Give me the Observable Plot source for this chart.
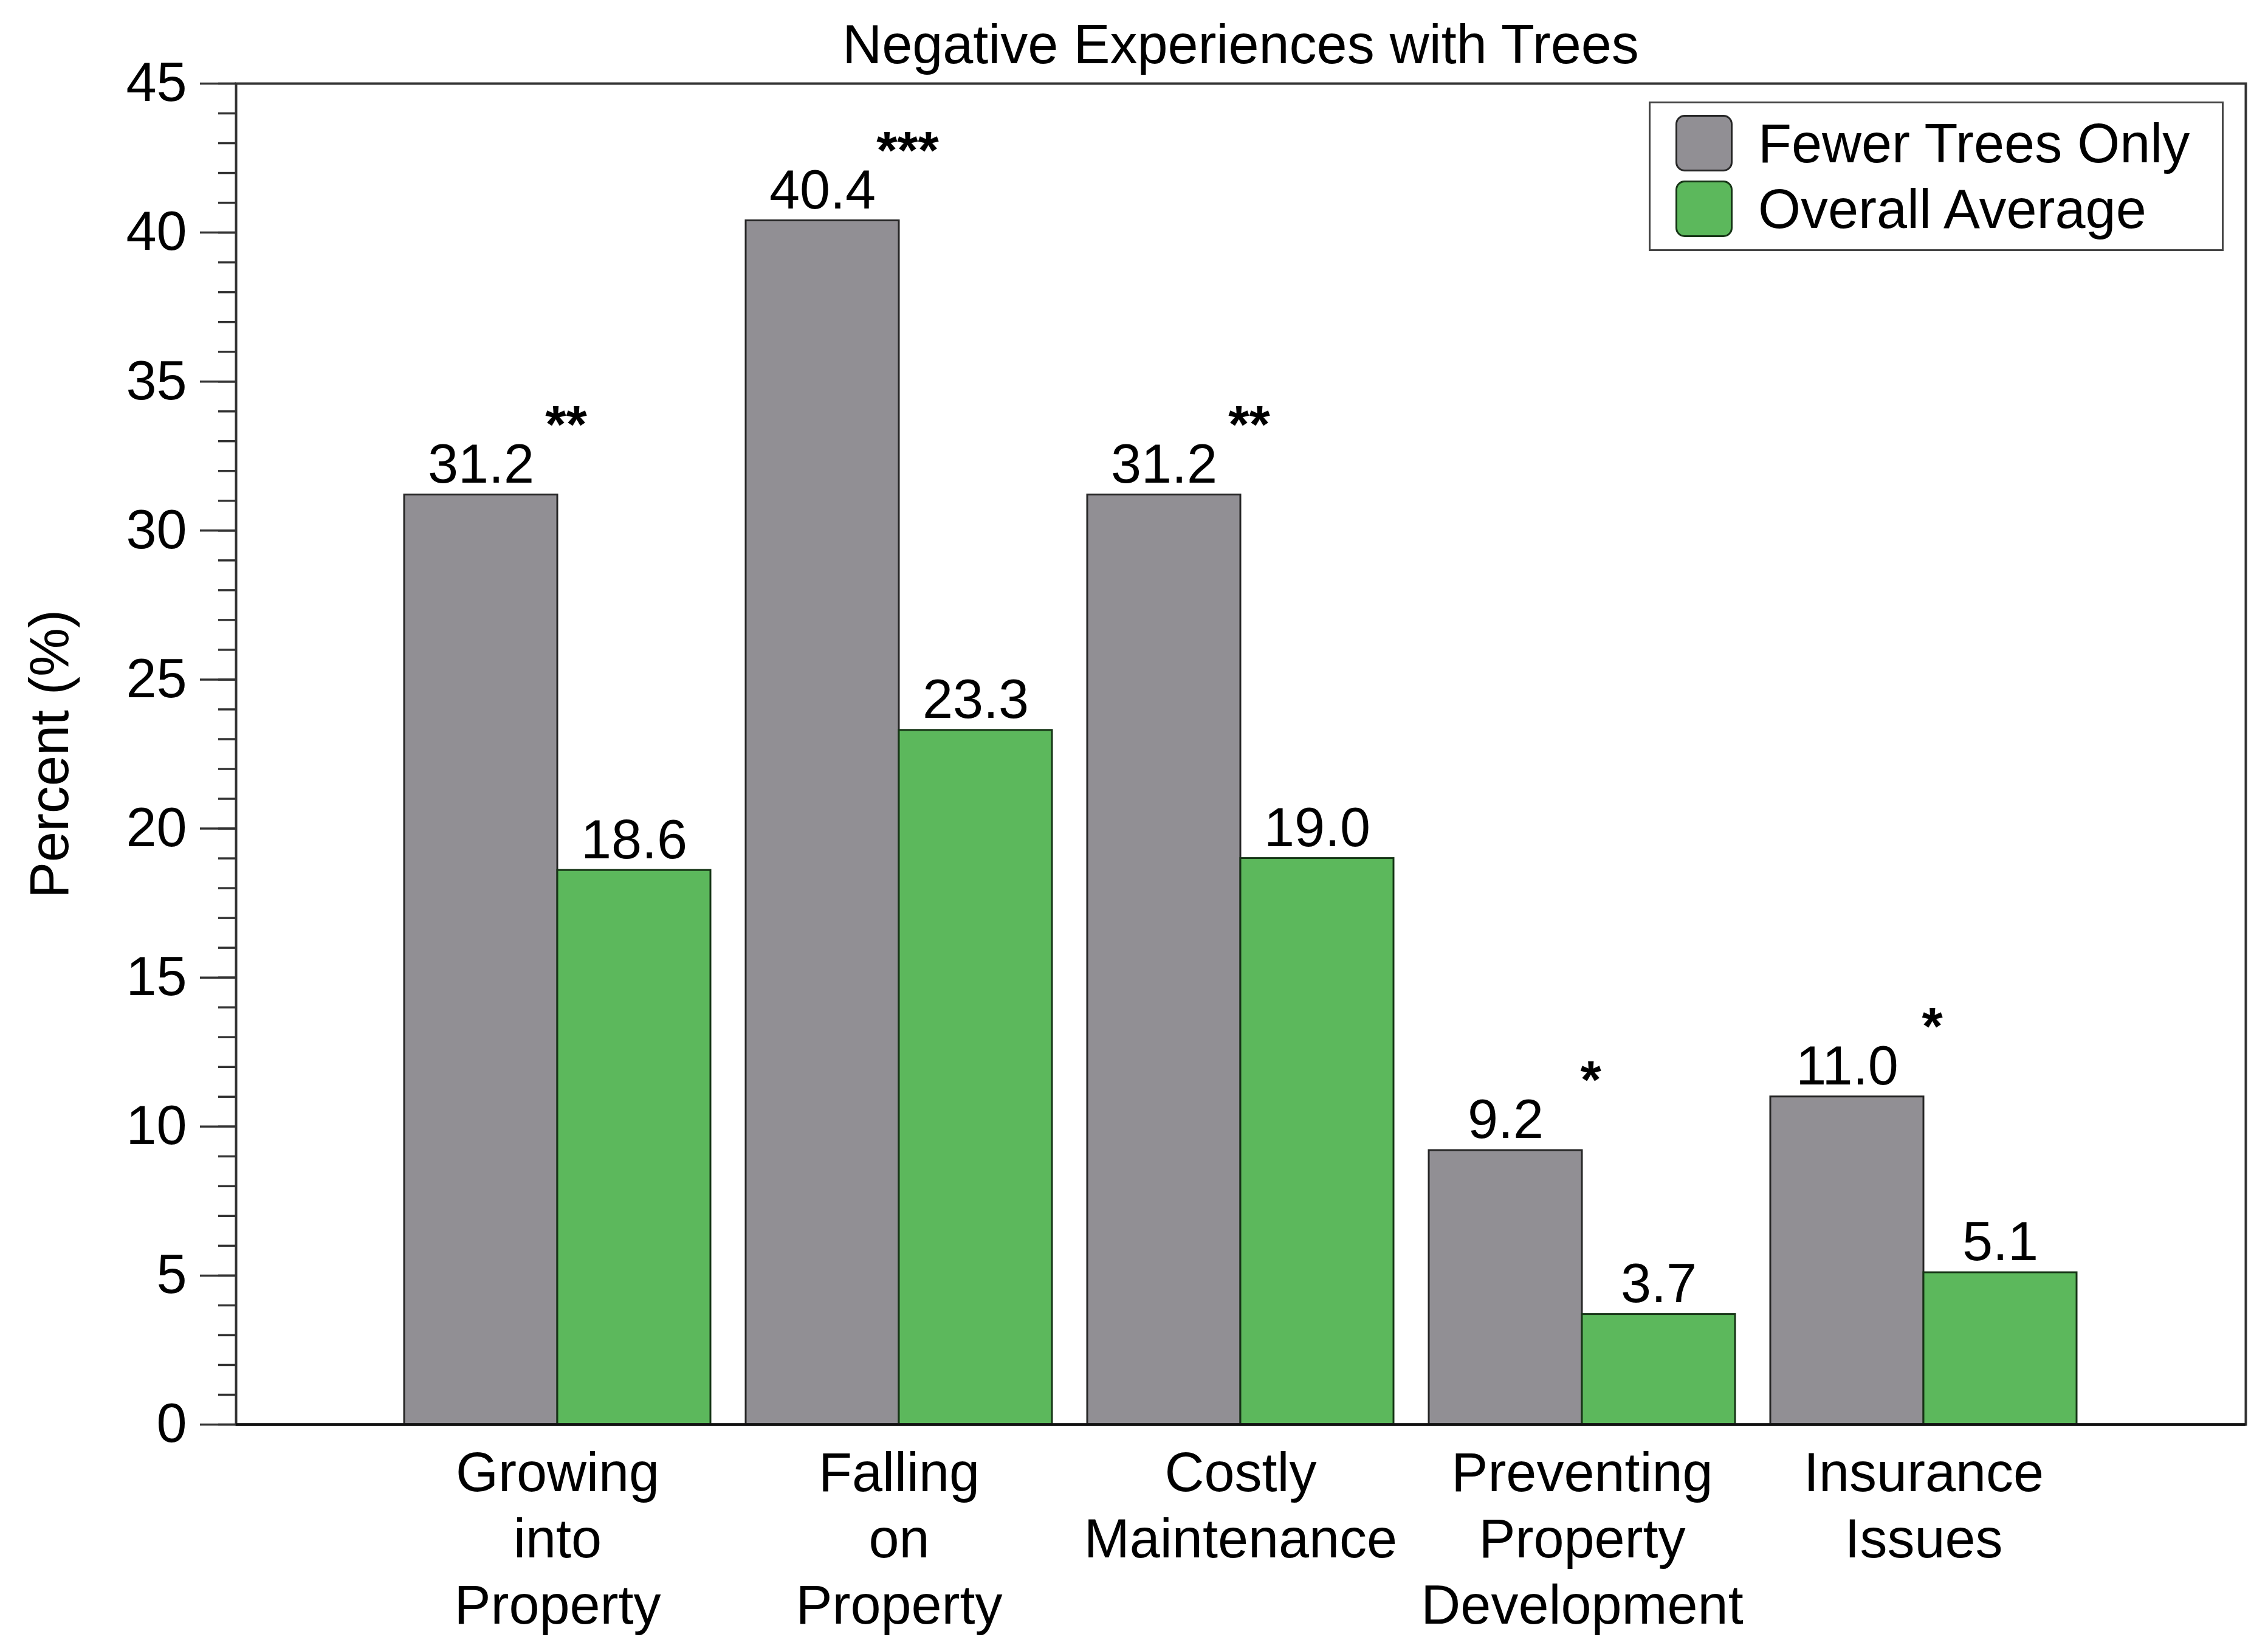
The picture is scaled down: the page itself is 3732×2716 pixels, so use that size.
<!DOCTYPE html>
<html>
<head>
<meta charset="utf-8">
<script src="https://cdn.jsdelivr.net/npm/d3@7"></script>
<script src="https://cdn.jsdelivr.net/npm/@observablehq/plot@0.6"></script>
<style>
  body { margin: 0; background: white; font-family: "Liberation Sans", Arial, Helvetica, sans-serif; }
  #wrap { position: relative; width: 3732px; height: 2716px; }
  #title { position: absolute; left: 388px; top: 0; width: 3307px; height: 118px; box-sizing: border-box; padding-top: 28px;
           font-size: 90px; line-height: 1; text-align: center; color: black; z-index: 2; }
  #legend { position: absolute; left: 2713px; top: 167px; width: 946px; height: 246px; box-sizing: border-box;
            border: 3px solid #444; background: white; z-index: 2; }
  .sw { position: absolute; left: 41px; width: 94px; height: 93px; box-sizing: border-box; border-radius: 15px; border: 3px solid #222; }
  .lab { position: absolute; left: 177px; font-size: 90px; line-height: 1; color: black; white-space: nowrap; }
  #chart svg { display: block; }
</style>
</head>
<body>
<div id="wrap">
  <div id="chart"></div>
  <div id="title">Negative Experiences with Trees</div>
  <div id="legend"></div>
</div>
<script>
const categories = ["Growing into Property", "Falling on Property", "Costly Maintenance", "Preventing Property Development", "Insurance Issues"]
const tickLabels = ["Growing\ninto\nProperty", "Falling\non\nProperty", "Costly\nMaintenance", "Preventing\nProperty\nDevelopment", "Insurance\nIssues"]
const fewerTrees = [31.2, 40.4, 31.2, 9.2, 11.0]
const overallAverage = [18.6, 23.3, 19.0, 3.7, 5.1]
const significance = ["**", "***", "**", "*", "*"]
const seriesNames = ["Fewer Trees Only", "Overall Average"]
const yMajor = [0, 5, 10, 15, 20, 25, 30, 35, 40, 45]

const grey = '#918f94'
const green = '#5cb85c'
const half = 252

const greyRows = categories.map((c, i) => ({cat: c, value: fewerTrees[i], stars: significance[i]}))
const greenRows = categories.map((c, i) => ({cat: c, value: overallAverage[i]}))

let chart = Plot.plot({
  width: 3732,
  height: 2716,
  marginLeft: 388,
  marginRight: 37,
  marginTop: 137,
  marginBottom: 373,
  style: {fontFamily: '"Liberation Sans", Arial, Helvetica, sans-serif', color: 'black', background: 'white'},
  x: {
    type: 'band',
    domain: categories,
    range: [634.75, 3447.25],
    paddingInner: 0.104,
    paddingOuter: 0.052,
    axis: null,
  },
  y: {
    domain: [0, 45],
  },
  marks: [
    Plot.barY(greyRows, {x: 'cat', y: 'value', fill: grey, stroke: '#262626', strokeWidth: 3, insetRight: half}),
    Plot.barY(greenRows, {x: 'cat', y: 'value', fill: green, stroke: '#163516', strokeWidth: 3, insetLeft: half}),
    Plot.frame({stroke: '#333', strokeWidth: 4}),
    Plot.ruleY([0], {stroke: '#111', strokeWidth: 4.5}),
    Plot.axisY({ticks: d3.range(0, 46), tickSize: 29, tickFormat: () => '', stroke: '#333', strokeWidth: 3.5, label: null}),
    Plot.axisY({ticks: yMajor, tickSize: 59, tickPadding: 22, tickFormat: d => String(d), fontSize: 90, stroke: '#333', strokeWidth: 3.5, label: null}),
    Plot.text(categories, {
      x: d => d,
      text: (d, i) => tickLabels[i],
      frameAnchor: 'bottom',
      lineAnchor: 'top',
      dy: 32,
      lineHeight: 1.21,
      fontSize: 90,
      fill: 'black',
    }),
    Plot.text(greyRows, {x: 'cat', y: 'value', text: d => d.value.toFixed(1), dx: -half / 2, dy: -20, lineAnchor: 'bottom', fontSize: 90, fill: 'black'}),
    Plot.text(greenRows, {x: 'cat', y: 'value', text: d => d.value.toFixed(1), dx: half / 2, dy: -20, lineAnchor: 'bottom', fontSize: 90, fill: 'black'}),
    Plot.text(greyRows, {x: 'cat', y: 'value', text: 'stars', dx: 14, dy: -86, lineAnchor: 'bottom', fontSize: 88, fontWeight: 'bold', fill: 'black'}),
    Plot.text(['Percent (%)'], {text: d => d, frameAnchor: 'left', textAnchor: 'middle', rotate: -90, dx: -277, lineAnchor: 'bottom', fontSize: 90, fill: 'black'}),
  ],
})

d3.select('#chart').append(() => chart)

// legend drawn inside the frame, top right
const legend = d3.select('#legend')
const swatchColors = [[grey, '#262626'], [green, '#163516']]
seriesNames.forEach((name, i) => {
  legend.append('div').attr('class', 'sw')
    .style('top', (19 + i * 108) + 'px')
    .style('background', swatchColors[i][0])
    .style('border-color', swatchColors[i][1])
  legend.append('div').attr('class', 'lab')
    .style('top', (21 + i * 108) + 'px')
    .text(name)
})
</script>
</body>
</html>
